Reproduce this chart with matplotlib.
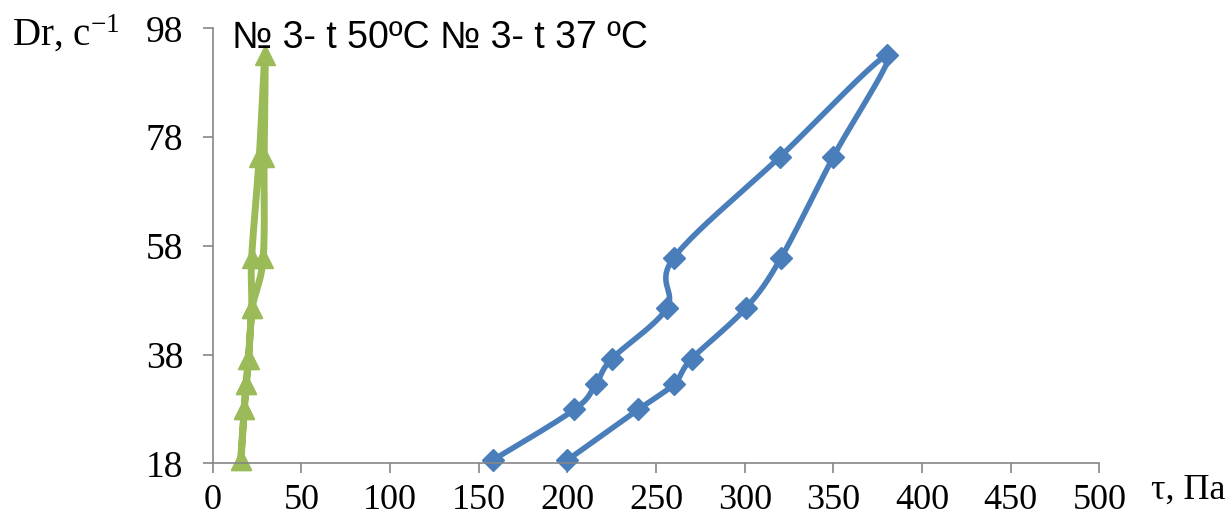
import numpy as np
import matplotlib.pyplot as plt

# shear rate Dr, 1/s (up then down the loop)
shear_rate = [18.6, 27.9, 32.55, 37.2, 46.5, 55.8, 74.4, 93.0,
              74.4, 55.8, 46.5, 37.2, 32.55, 27.9, 18.6]
# shear stress tau, Pa
stress_37 = [158, 204, 216, 225, 256, 260, 320, 380.5,
             350, 320.5, 300.5, 270, 260, 240, 200]
stress_50 = [15.8, 17.7, 18.8, 20.1, 22.0, 22.0, 26.3, 29.5,
             29.0, 28.5, 22.3, 20.4, 19.0, 17.9, 16.0]

x_ticks = list(range(0, 501, 50))
y_ticks = [18, 38, 58, 78, 98]
legend_text = "№ 3- t 50ºC № 3- t 37 ºC"

plt.rcParams["font.family"] = ["Liberation Serif", "DejaVu Serif"]
plt.rcParams["mathtext.fontset"] = "stix"


def smooth(x, y, sx, sy, n=24):
    """Catmull-Rom curve through points, computed in screen-like units."""
    p = np.column_stack([np.asarray(x, float) * sx, np.asarray(y, float) * sy])
    p = np.vstack([p[0], p, p[-1]])
    out = []
    t = np.linspace(0, 1, n)[:, None]
    for i in range(1, len(p) - 2):
        p0, p1, p2, p3 = p[i - 1], p[i], p[i + 1], p[i + 2]
        seg = 0.5 * ((2 * p1) + (-p0 + p2) * t
                     + (2 * p0 - 5 * p1 + 4 * p2 - p3) * t ** 2
                     + (-p0 + 3 * p1 - 3 * p2 + p3) * t ** 3)
        out.append(seg if i == 1 else seg[1:])
    out = np.vstack(out)
    return out[:, 0] / sx, out[:, 1] / sy


fig = plt.figure(figsize=(12.32, 5.21), dpi=100)
ax = fig.add_axes([0.1726, 0.1107, 0.7198, 0.835])

sx, sy = 1.773, 5.44  # px per data unit

bx, by = smooth(stress_37, shear_rate, sx, sy)
ax.plot(bx, by, color="#4A7EBB", lw=4, solid_capstyle="round", clip_on=False)
ax.plot(stress_37, shear_rate, "D", color="#4A7EBB", ms=11, clip_on=False)

gx, gy = smooth(stress_50, shear_rate, sx, sy)
ax.plot(gx, gy, color="#9BBB59", lw=5, solid_capstyle="round", clip_on=False)
ax.plot(stress_50, shear_rate, "^", color="#9BBB59", ms=15, clip_on=False)

ax.set_xlim(0, 500)
ax.set_ylim(18, 98)
ax.set_xticks(x_ticks)
ax.set_yticks(y_ticks)
for s in ["top", "right"]:
    ax.spines[s].set_visible(False)
for s in ["left", "bottom"]:
    ax.spines[s].set_color("#868686")
    ax.spines[s].set_linewidth(1.2)
ax.tick_params(axis="both", direction="out", length=7, width=1.2,
               color="#868686", labelsize=27)
ax.tick_params(axis="x", pad=8, labelsize=26)
ax.tick_params(axis="y", pad=14)

fig.text(0.01, 0.935, "Dr, c$^{\\mathregular{-1}}$", fontsize=28, va="center", ha="left")
fig.text(0.934, 0.06, "τ, Па", fontsize=26, va="center", ha="left")
fig.text(0.188, 0.927, legend_text, fontsize=27, va="center", ha="left",
         family=["Liberation Sans", "DejaVu Sans"])

fig.savefig("out.png", dpi=100)
